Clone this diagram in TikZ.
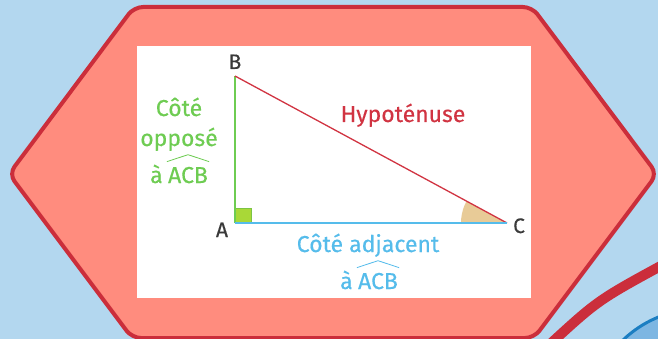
\documentclass[tikz,border=0pt]{standalone}
\usepackage{fontspec}
\setmainfont{Fira Sans}
\newfontfamily\lblfont[FakeBold=0.35]{Fira Sans}
\definecolor{bg}{HTML}{B3D7EF}
\definecolor{hexfill}{HTML}{FF8C7E}
\definecolor{hexline}{HTML}{CB2E3B}
\definecolor{circfill}{HTML}{7DB6E2}
\definecolor{circline}{HTML}{1B7EC2}
\definecolor{gtxt}{HTML}{6ECC52}
\definecolor{btxt}{HTML}{55BCEB}
\definecolor{rtxt}{HTML}{D13442}
\definecolor{dtxt}{HTML}{3A3A3A}
\definecolor{sqfill}{HTML}{A9D837}
\definecolor{sqline}{HTML}{7CC443}
\definecolor{angfill}{HTML}{E8CB97}
\begin{document}
\begin{tikzpicture}[x=1pt,y=-1pt,
  lbl/.style={inner sep=0pt, anchor=base, font=\lblfont\fontsize{23}{27}\selectfont},
  vtx/.style={inner sep=0pt, anchor=base, text=dtxt, font=\lblfont\fontsize{21}{25}\selectfont},
  gl/.style={lbl, text=gtxt},
  bl/.style={lbl, text=btxt},
  hatg/.style={draw=gtxt, line width=0.8pt},
  hatb/.style={draw=btxt, line width=0.8pt}]
\useasboundingbox (0,0) rectangle (658,339);
\fill[bg] (0,0) rectangle (658,339);
% decorative circle and stripe bottom right
\filldraw[fill=circfill, draw=circline, line width=3pt] (700,420) circle (111pt);
\draw[hexline, line width=10pt] (548,346) .. controls (598,300) .. (668,262);
% hexagon
\filldraw[fill=hexfill, draw=hexline, line width=4pt, rounded corners=9pt]
  (134,7) -- (532,7) -- (657,174) -- (534,338) -- (132,338) -- (9,174) -- cycle;
% white panel
\fill[white] (137,46) rectangle (531,298);
% triangle
\coordinate (A) at (235,223);
\coordinate (B) at (235,76);
\coordinate (C) at (507,223);
\begin{scope}
  \clip (A) -- (B) -- (C) -- cycle;
  \fill[angfill] (C) circle (46pt);
\end{scope}
\filldraw[fill=sqfill, draw=sqline, line width=1pt] (A) rectangle ++(16,-15);
\draw[gtxt, line width=1.3pt] (A) -- (B);
\draw[rtxt, line width=1.3pt] (B) -- (C);
\draw[btxt, line width=1.8pt] (A) -- (C);
% vertex labels
\node[vtx] (lB) at (235,69) {B};
\node[vtx] (lA) at (222,237) {A};
\node[vtx] (lC) at (519,233) {C};
% hypotenuse
\node[lbl, text=rtxt] (hyp) at (403,122) {Hypoténuse};
% opposite side
\node[gl] (g1) at (179,116) {Côté};
\node[gl] (g2) at (179,146) {opposé};
\node[gl] (gacb) at (188,183) {ACB};
\node[gl, anchor=base east] (ga) at ([shift={(-5,0)}]gacb.base west) {à};
\draw[hatg] ([shift={(-1,-5)}]gacb.north west) -- ([shift={(0,-12)}]gacb.north) -- ([shift={(1,-5)}]gacb.north east);
% adjacent side
\node[bl] (b1) at (368,252) {Côté adjacent};
\node[bl] (bacb) at (378,289) {ACB};
\node[bl, anchor=base east] (ba) at ([shift={(-5,0)}]bacb.base west) {à};
\draw[hatb] ([shift={(-1,-5)}]bacb.north west) -- ([shift={(0,-12)}]bacb.north) -- ([shift={(1,-5)}]bacb.north east);
\end{tikzpicture}
\end{document}
